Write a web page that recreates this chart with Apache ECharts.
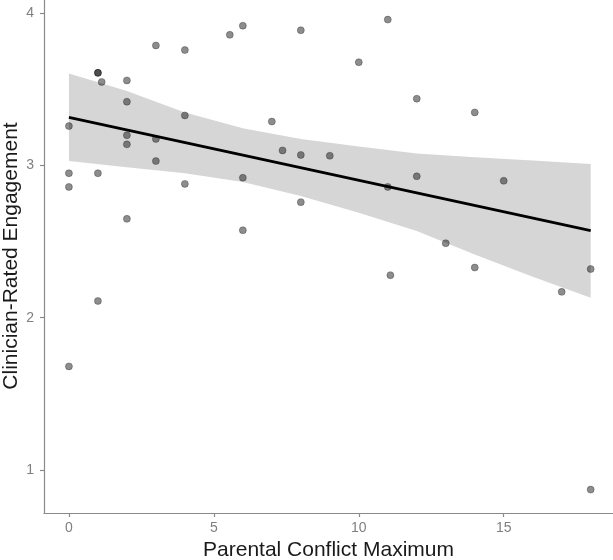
<!DOCTYPE html>
<html>
<head>
<meta charset="utf-8">
<script src="https://cdn.jsdelivr.net/npm/echarts@6/dist/echarts.min.js"></script>
<style>
html,body{margin:0;padding:0;background:#fff;}
#c{width:613px;height:560px;}
</style>
</head>
<body>
<div id="c"></div>
<script>
// Scatter data: Parental Conflict Maximum (x) vs Clinician-Rated Engagement (y)
var pointX = [0, 0, 0, 0, 1, 1, 1, 1, 1.13, 2, 2, 2, 2, 2, 3, 3, 3, 4, 4, 4,
  5.55, 6, 6, 6, 7, 7.37, 8, 8, 8, 9, 10, 11, 11, 11.09, 12, 12, 13, 14, 14, 15, 17, 18, 18];
var pointY = [3.26, 2.95, 2.86, 1.68, 3.61, 3.61, 2.95, 2.11, 3.55, 3.56, 3.42, 3.20, 3.14, 2.65, 3.79, 3.175, 3.03, 3.76, 3.33, 2.88,
  3.86, 3.92, 2.92, 2.575, 3.29, 3.10, 3.89, 3.07, 2.76, 3.065, 3.68, 3.96, 2.86, 2.28, 3.44, 2.93, 2.49, 3.35, 2.33, 2.90, 2.17, 2.32, 0.87];

// Fitted line endpoints
var lineX = [0, 18];
var lineY = [3.317, 2.572];

// Confidence band
var bandX = [0, 2, 4, 6, 8, 10, 12, 14, 16, 18];
var bandUpper = [3.606, 3.49, 3.35, 3.245, 3.175, 3.125, 3.08, 3.055, 3.033, 3.01];
var bandLower = [3.03, 2.99, 2.95, 2.893, 2.80, 2.69, 2.57, 2.415, 2.27, 2.132];

// Tick labels
var xTicks = [0, 5, 10, 15];
var yTicks = [1, 2, 3, 4];

var xTitle = 'Parental Conflict Maximum';
var yTitle = 'Clinician-Rated Engagement';

var FONT = 'Liberation Sans, Arial, Helvetica, sans-serif';
var axisGray = '#8a8a8a';

var scatterData = pointX.map(function (x, i) { return [x, pointY[i]]; });
var lineData = lineX.map(function (x, i) { return [x, lineY[i]]; });

var chart = echarts.init(document.getElementById('c'), null, {renderer: 'canvas'});
chart.setOption({
  animation: false,
  backgroundColor: '#ffffff',
  grid: {left: 44, right: 0, top: 0, bottom: 47, containLabel: false, outerBoundsMode: 'none'},
  xAxis: {
    type: 'value',
    min: -0.86, max: 18.77,
    splitLine: {show: false},
    axisLine: {show: true, onZero: false, lineStyle: {color: axisGray, width: 1.2}},
    axisTick: {show: true, length: 4, customValues: xTicks, lineStyle: {color: axisGray, width: 1.2}},
    axisLabel: {show: true, customValues: xTicks, margin: 8, color: '#7f7f7f', fontSize: 14, fontFamily: FONT},
    name: xTitle,
    nameLocation: 'middle',
    nameGap: 26,
    nameTextStyle: {color: '#1a1a1a', fontSize: 21, fontFamily: FONT}
  },
  yAxis: {
    type: 'value',
    min: 0.716, max: 4.089,
    splitLine: {show: false},
    axisLine: {show: true, onZero: false, lineStyle: {color: axisGray, width: 1.2}},
    axisTick: {show: true, length: 4, customValues: yTicks, lineStyle: {color: axisGray, width: 1.2}},
    axisLabel: {show: true, customValues: yTicks, margin: 10, color: '#7f7f7f', fontSize: 14, fontFamily: FONT}
  },
  graphic: [{
    type: 'text',
    x: 11, y: 256,
    rotation: Math.PI / 2,
    style: {
      text: yTitle,
      fill: '#1a1a1a',
      font: '21px ' + FONT,
      textAlign: 'center',
      textVerticalAlign: 'middle'
    }
  }],
  series: [
    {
      type: 'custom',
      silent: true,
      data: [0],
      clip: true,
      renderItem: function (params, api) {
        var pts = [];
        for (var i = 0; i < bandX.length; i++) pts.push(api.coord([bandX[i], bandUpper[i]]));
        for (var j = bandX.length - 1; j >= 0; j--) pts.push(api.coord([bandX[j], bandLower[j]]));
        return {type: 'polygon', shape: {points: pts}, style: {fill: '#d6d6d6'}};
      },
      z: 1
    },
    {
      type: 'scatter',
      data: scatterData,
      symbol: 'circle',
      symbolSize: 7,
      itemStyle: {color: 'rgba(0,0,0,0.56)', borderColor: 'rgba(0,0,0,0.35)', borderWidth: 1},
      z: 2
    },
    {
      type: 'line',
      data: lineData,
      symbol: 'none',
      lineStyle: {color: '#000', width: 2.8},
      z: 3
    }
  ]
});
</script>
</body>
</html>
